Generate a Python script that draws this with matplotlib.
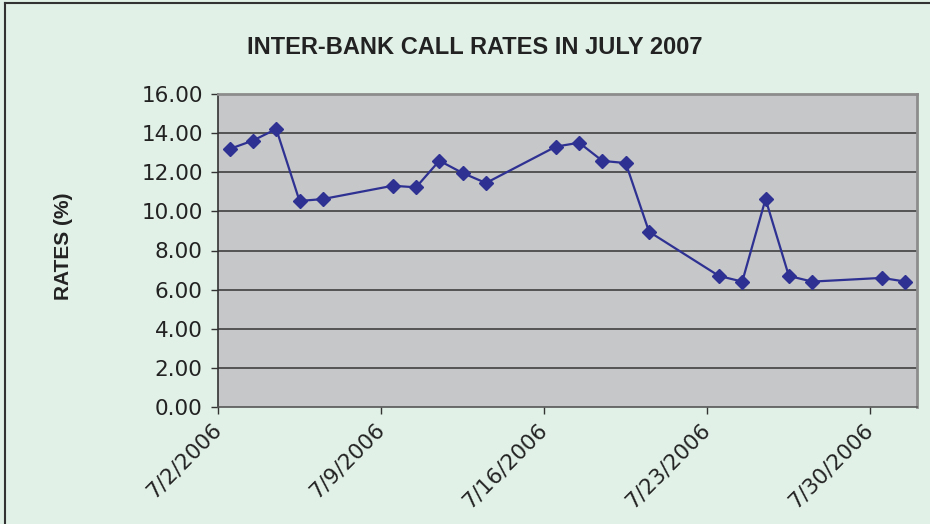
import matplotlib
matplotlib.use('Agg')
import matplotlib.pyplot as plt
import matplotlib.dates as mdates
from matplotlib.ticker import FuncFormatter
from matplotlib.lines import Line2D
import datetime as dt

# ── data ──────────────────────────────────────────────
days = [2, 3, 4, 5, 6, 9, 10, 11, 12, 13, 16, 17, 18, 19, 20,
        23, 24, 25, 26, 27, 30, 31]
rates = [13.19, 13.62, 14.21, 10.53, 10.63, 11.31, 11.23, 12.59, 11.96, 11.45,
         13.31, 13.51, 12.58, 12.47, 8.96, 6.70, 6.41, 10.63, 6.70, 6.41,
         6.60, 6.41]
tick_days = [2, 9, 16, 23, 30]
yticks = [0, 2, 4, 6, 8, 10, 12, 14, 16]

BG = '#e1f1e7'
TXT = '#222222'
dates = [dt.datetime(2006, 7, d) + dt.timedelta(hours=12) for d in days]  # excel: point mid-day
ticks = [dt.datetime(2006, 7, d) for d in tick_days]

fig = plt.figure(figsize=(9.3, 5.24), dpi=100)
fig.patch.set_facecolor(BG)
ax = fig.add_axes([218/930, 1-407/524, (917-218)/930, (407-94)/524])
ax.set_facecolor('#c6c7c9')

ax.set_xlim(dt.datetime(2006, 7, 2), dt.datetime(2006, 8, 1))
ax.set_ylim(0, 16)

for y in yticks[1:-1]:
    ax.axhline(y, color='#404040', lw=1.2, zorder=1)

ax.plot(dates, rates, color='#2e3192', lw=1.6, marker='D', ms=7.3,
        markeredgecolor='#2e3192', zorder=3, clip_on=False)

ax.set_yticks(yticks)
ax.set_yticklabels(['%.2f' % v for v in yticks], fontsize=15.5, color=TXT,
                   family='DejaVu Sans')
ax.set_xticks(ticks)
ax.xaxis.set_major_formatter(FuncFormatter(
    lambda v, p: '{0.month}/{0.day}/{0.year}'.format(mdates.num2date(v))))
for lbl in ax.get_xticklabels():
    lbl.set_rotation(45); lbl.set_ha('right'); lbl.set_va('center')
    lbl.set_rotation_mode('anchor')
    lbl.set_fontsize(15.5); lbl.set_color(TXT); lbl.set_family('DejaVu Sans')
ax.tick_params(axis='both', direction='out', length=5, width=1, color='#333333')
ax.tick_params(axis='x', pad=9)
ax.tick_params(axis='y', pad=6)

ax.spines['left'].set_color('#333333'); ax.spines['left'].set_linewidth(1.2)
ax.spines['bottom'].set_color('#555555'); ax.spines['bottom'].set_linewidth(1.2)
ax.spines['top'].set_color('#8c8c8c'); ax.spines['top'].set_linewidth(2)
ax.spines['right'].set_color('#8c8c8c'); ax.spines['right'].set_linewidth(2)

fig.text(475/930, 1-48/524, 'INTER-BANK CALL RATES IN JULY 2007',
         family=['Liberation Sans', 'DejaVu Sans'], fontweight='bold',
         fontsize=17, ha='center', va='center', color=TXT)
fig.text(63/930, 1-246/524, 'RATES (%)', family=['Liberation Sans', 'DejaVu Sans'],
         fontweight='bold', fontsize=15, rotation=90, ha='center', va='center', color=TXT)

# outer chart border (left and top visible)
fig.add_artist(Line2D([4.5/930, 4.5/930], [0, 1-2.5/524], transform=fig.transFigure,
                      color='#333333', lw=1.5))
fig.add_artist(Line2D([4.5/930, 1], [1-2.5/524, 1-2.5/524], transform=fig.transFigure,
                      color='#333333', lw=1.5))

fig.savefig('out.png', dpi=100, facecolor=BG)
